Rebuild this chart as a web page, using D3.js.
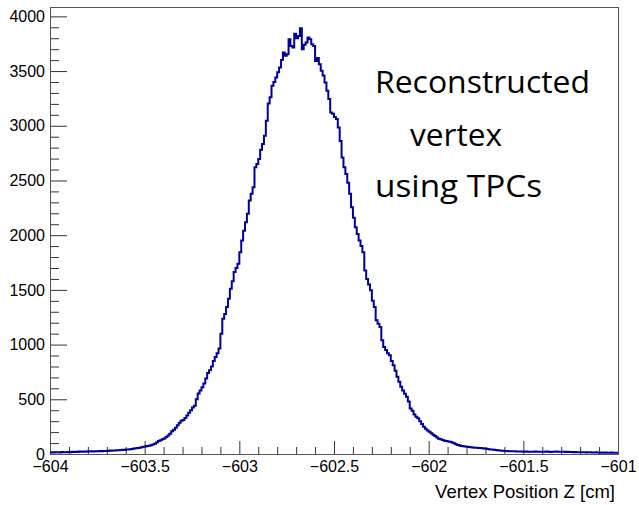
<!DOCTYPE html>
<html>
<head>
<meta charset="utf-8">
<script src="https://cdn.jsdelivr.net/npm/d3@7"></script>
<style>
  body { margin: 0; background: #fff; }
</style>
</head>
<body>
<div id="chart"></div>
<script>
// histogram of reconstructed vertex z, 300 bins of 0.01 cm from -604 to -601
const xStart = -604, xEnd = -601, binWidth = 0.01;
const counts = [
    14, 16, 13, 15, 17, 14, 18, 16, 15, 19,
    17, 20, 18, 21, 19, 22, 20, 23, 21, 22,
    24, 22, 25, 23, 26, 25, 27, 24, 28, 27,
    28, 31, 30, 33, 32, 35, 34, 36, 38, 37,
    40, 42, 44, 46, 50, 52, 55, 58, 61, 66,
    68, 72, 75, 80, 86, 94, 104, 118, 126, 134,
    142, 156, 170, 185, 208, 222, 240, 262, 285, 305,
    310, 330, 352, 376, 400, 425, 440, 500, 553, 580,
    610, 645, 690, 740, 766, 800, 850, 887, 920, 964,
    1100, 1237, 1280, 1343, 1420, 1511, 1580, 1663, 1700, 1739,
    1845, 1952, 2040, 2119, 2195, 2316, 2378, 2438, 2620, 2650,
    2697, 2780, 2834, 2909, 3046, 3204, 3260, 3365, 3400, 3441,
    3490, 3532, 3600, 3669, 3640, 3654, 3791, 3730, 3715, 3842,
    3800, 3821, 3891, 3700, 3740, 3760, 3806, 3790, 3745, 3730,
    3593, 3620, 3563, 3502, 3460, 3395, 3320, 3244, 3122, 3110,
    3080, 3061, 2985, 2860, 2711, 2620, 2560, 2480, 2378, 2255,
    2160, 2073, 2010, 1952, 1900, 1845, 1678, 1600, 1550, 1496,
    1400, 1343, 1222, 1190, 1161, 1040, 979, 950, 920, 903,
    850, 812, 760, 705, 660, 614, 580, 550, 523, 480,
    417, 395, 360, 340, 326, 300, 275, 249, 230, 215,
    203, 190, 176, 165, 150, 140, 134, 128, 122, 118,
    115, 112, 105, 98, 90, 82, 78, 74, 70, 68,
    67, 65, 62, 60, 58, 57, 55, 54, 52, 50,
    48, 45, 42, 40, 38, 36, 34, 32, 30, 30,
    28, 27, 26, 25, 25, 24, 23, 23, 22, 22,
    21, 22, 20, 21, 21, 20, 22, 21, 20, 21,
    20, 21, 22, 20, 19, 21, 20, 22, 21, 20,
    21, 20, 19, 21, 18, 19, 17, 18, 16, 17,
    16, 15, 17, 14, 16, 15, 14, 13, 15, 14,
    12, 13, 12, 14, 11, 12, 13, 11, 12, 12
];
const xMajorTicks = [-604, -603.5, -603, -602.5, -602, -601.5, -601];
const yMajorTicks = [0, 500, 1000, 1500, 2000, 2500, 3000, 3500, 4000];
const xTitle = "Vertex Position Z [cm]";
const noteLines = ["Reconstructed", "vertex", "using TPCs"];

const W = 639, H = 505;
const margin = { top: 7, right: 21, bottom: 51, left: 50 };

const svg = d3.select("#chart")
    .append("svg")
    .attr("width", W)
    .attr("height", H);

const x = d3.scaleLinear()
    .domain([xStart, xEnd])
    .range([margin.left, W - margin.right]);

const y = d3.scaleLinear()
    .domain([0, d3.max(counts) * 1.05])
    .range([H - margin.bottom, margin.top]);

const minus = s => String(s).replace("-", "\u2212");

// minor ticks
const xMinor = d3.range(0, 31).map(i => xStart + i * 0.1).filter(v => Math.abs(v * 2 - Math.round(v * 2)) > 1e-6);
const yMinor = d3.range(1, 41).map(i => i * 100).filter(v => v % 500 !== 0);

svg.append("g")
    .attr("transform", `translate(0,${H - margin.bottom})`)
    .call(d3.axisBottom(x).tickValues(xMinor).tickSize(-7).tickSizeOuter(0).tickFormat(""))
    .call(g => g.select(".domain").remove());

svg.append("g")
    .attr("transform", `translate(${margin.left},0)`)
    .call(d3.axisLeft(y).tickValues(yMinor).tickSize(-9).tickSizeOuter(0).tickFormat(""))
    .call(g => g.select(".domain").remove());

// major ticks + labels
const xAxis = svg.append("g")
    .attr("transform", `translate(0,${H - margin.bottom})`)
    .call(d3.axisBottom(x).tickValues(xMajorTicks).tickSize(-13).tickSizeOuter(0).tickPadding(7).tickFormat(d => minus(d)));
xAxis.select(".domain").remove();
xAxis.selectAll("text")
    .style("font-family", "'Liberation Sans', Arial, sans-serif")
    .style("font-size", "16px")
    .attr("fill", "#000");

const yAxis = svg.append("g")
    .attr("transform", `translate(${margin.left},0)`)
    .call(d3.axisLeft(y).tickValues(yMajorTicks).tickSize(-17).tickSizeOuter(0).tickPadding(5).tickFormat(d => String(d)));
yAxis.select(".domain").remove();
yAxis.selectAll("text")
    .style("font-family", "'Liberation Sans', Arial, sans-serif")
    .style("font-size", "16px")
    .attr("fill", "#000");

svg.selectAll(".tick line").attr("stroke", "#333");

// frame
svg.append("rect")
    .attr("x", margin.left + 0.5)
    .attr("y", margin.top + 0.5)
    .attr("width", W - margin.left - margin.right)
    .attr("height", H - margin.top - margin.bottom)
    .attr("fill", "none")
    .attr("stroke", "#555")
    .attr("stroke-width", 1);

// histogram outline
const pts = counts.map((c, i) => [xStart + i * binWidth, c]);
pts.push([xEnd, counts[counts.length - 1]]);

svg.append("path")
    .datum(pts)
    .attr("fill", "none")
    .attr("stroke", "#000099")
    .attr("stroke-width", 2)
    .attr("d", d3.line()
        .x(d => x(d[0]))
        .y(d => y(d[1]))
        .curve(d3.curveStepAfter));

// axis title
svg.append("text")
    .attr("x", W - margin.right - 3)
    .attr("y", 498)
    .attr("text-anchor", "end")
    .style("font-family", "'Liberation Sans', Arial, sans-serif")
    .style("font-size", "18.5px")
    .text(xTitle);

// annotation
const notePos = [
    { x: 375, y: 93, len: 215 },
    { x: 410, y: 146, len: 92 },
    { x: 375, y: 197, len: 167 }
];
svg.append("g")
    .selectAll("text")
    .data(noteLines)
    .enter()
    .append("text")
    .attr("x", (d, i) => notePos[i].x)
    .attr("y", (d, i) => notePos[i].y)
    .attr("textLength", (d, i) => notePos[i].len)
    .attr("lengthAdjust", "spacingAndGlyphs")
    .style("font-family", "'Open Sans', Lato, sans-serif")
    .style("font-size", "31px")
    .attr("fill", "#000")
    .text(d => d);
</script>
</body>
</html>
